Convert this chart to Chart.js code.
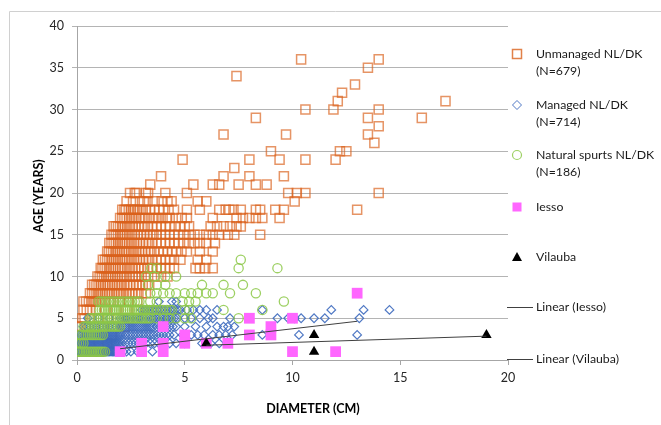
<!DOCTYPE html>
<html>
<head>
<meta charset="utf-8">
<script src="https://cdn.jsdelivr.net/npm/chart.js@4.4.0/dist/chart.umd.min.js"></script>
<style>
  html, body { margin: 0; padding: 0; background: #fff; }
  #wrap { width: 661px; height: 425px; }
</style>
</head>
<body>
<div id="wrap"><canvas id="chart" width="661" height="425"></canvas></div>
<script>
// ages are whole years, so each row is [age, [diameters in cm]]
const unmanagedRows = [
  [1, [0, 0.1, 0.2, 0.4, 0.7, 1.0]],
  [2, [0, 0.15, 0.3, 0.6, 1.0, 1.4]],
  [3, [0.05, 0.2, 0.45, 0.8, 1.2, 1.6]],
  [4, [0.05, 0.15, 0.4, 0.8, 1.2, 1.7, 2.2]],
  [5, [0.25, 0.35, 0.6, 1.0, 1.4, 1.9, 2.4]],
  [6, [0.3, 0.45, 0.6, 0.9, 1.3, 1.8, 2.3, 2.8]],
  [7, [0.3, 0.42, 0.55, 0.66, 0.78, 0.9, 1.02, 1.15, 1.3, 1.5, 1.7, 2.0, 2.4, 2.8]],
  [8, [0.6, 0.7, 0.8, 0.9, 0.98, 1.08, 1.18, 1.3, 1.4, 1.5, 1.62, 1.72, 1.85, 1.95, 2.05, 2.18, 2.3, 2.42, 2.55, 2.7, 2.85, 3.0, 3.2]],
  [9, [0.7, 0.8, 0.9, 1.0, 1.1, 1.2, 1.3, 1.42, 1.52, 1.64, 1.75, 1.86, 1.97, 2.08, 2.2, 2.32, 2.45, 2.6, 2.75, 2.9, 3.05, 3.2, 3.35]],
  [10, [0.95, 1.05, 1.15, 1.25, 1.35, 1.45, 1.55, 1.66, 1.77, 1.88, 2.0, 2.1, 2.2, 2.32, 2.45, 2.58, 2.7, 2.85, 3.0, 3.15, 3.3, 3.6, 3.9, 4.2]],
  [11, [1.1, 1.18, 1.28, 1.38, 1.48, 1.58, 1.68, 1.78, 1.9, 2.0, 2.1, 2.22, 2.34, 2.46, 2.58, 2.7, 2.84, 2.98, 3.12, 3.3, 3.5, 3.7, 3.9, 4.1, 4.3, 4.5, 5.5, 5.7, 5.95, 6.3]],
  [12, [1.2, 1.3, 1.4, 1.5, 1.6, 1.7, 1.8, 1.9, 2.0, 2.1, 2.2, 2.3, 2.42, 2.54, 2.66, 2.78, 2.9, 3.05, 3.2, 3.35, 3.5, 3.7, 3.9, 4.1, 4.3, 4.5, 4.8, 5.6, 6.0]],
  [13, [1.4, 1.48, 1.58, 1.68, 1.78, 1.88, 1.98, 2.08, 2.18, 2.28, 2.4, 2.52, 2.64, 2.76, 2.88, 3.0, 3.15, 3.3, 3.45, 3.6, 3.8, 4.0, 4.2, 4.4, 4.6, 4.85, 5.1, 5.7, 6.3]],
  [14, [1.5, 1.6, 1.7, 1.8, 1.9, 2.0, 2.1, 2.2, 2.3, 2.42, 2.54, 2.66, 2.78, 2.9, 3.05, 3.2, 3.35, 3.5, 3.7, 3.9, 4.1, 4.3, 4.5, 4.7, 4.95, 5.2, 5.45, 5.7, 6.0, 6.4]],
  [15, [1.6, 1.7, 1.8, 1.9, 2.0, 2.1, 2.2, 2.32, 2.44, 2.56, 2.68, 2.8, 2.95, 3.1, 3.25, 3.4, 3.55, 3.7, 3.9, 4.1, 4.3, 4.5, 4.7, 4.95, 5.2, 5.45, 5.7, 6.0, 6.3, 6.6, 7.0, 7.3, 8.5]],
  [16, [1.7, 1.8, 1.9, 2.0, 2.1, 2.22, 2.34, 2.46, 2.58, 2.7, 2.85, 3.0, 3.15, 3.3, 3.5, 3.7, 3.9, 4.1, 4.3, 4.55, 4.8, 5.0, 5.2, 6.2, 6.5, 6.8, 7.1, 7.4, 7.6]],
  [17, [2.0, 2.1, 2.2, 2.3, 2.42, 2.54, 2.66, 2.76, 2.88, 3.0, 3.15, 3.33, 3.5, 3.65, 3.8, 3.97, 4.15, 4.3, 4.6, 4.86, 5.1, 6.3, 7.4, 7.7, 8.0, 8.3, 8.6, 9.4]],
  [18, [2.1, 2.2, 2.27, 2.4, 2.5, 2.6, 2.7, 2.8, 2.9, 3.05, 3.2, 3.4, 3.6, 3.8, 4.0, 4.25, 4.5, 5.1, 5.7, 6.6, 6.9, 7.07, 7.26, 7.6, 8.3, 8.5, 9.2, 9.6, 13.0]],
  [19, [2.3, 2.6, 2.92, 3.1, 3.27, 3.6, 3.93, 4.2, 4.39, 5.6, 6.0, 10.1]],
  [20, [2.46, 2.68, 2.76, 3.2, 3.3, 4.1, 5.1, 9.8, 10.2, 10.6, 14.0]],
  [21, [3.4, 5.4, 6.3, 6.6, 7.5, 8.3, 8.8]],
  [22, [3.9, 6.8, 8.0, 9.6]],
  [23, [7.3]],
  [24, [4.9, 8.0, 9.4, 10.6, 12.0]],
  [25, [9.0, 12.2, 12.5]],
  [26, [13.8]],
  [27, [6.8, 9.7, 13.5]],
  [28, [14.0]],
  [29, [8.3, 13.5, 16.0]],
  [30, [10.6, 11.9, 14.0]],
  [31, [12.1, 17.1]],
  [32, [12.3]],
  [33, [12.9]],
  [34, [7.4]],
  [35, [13.5]],
  [36, [10.4, 14.0]]
];

const managedRows = [
  [1, [0.02, 0.08, 0.14, 0.2, 0.26, 0.32, 0.38, 0.44, 0.5, 0.56, 0.62, 0.68, 0.74, 0.8, 0.86, 0.92, 0.98, 1.04, 1.1, 1.16, 1.22, 1.28, 1.34, 1.4, 1.46, 1.52, 1.58, 1.64, 1.7, 1.76, 1.82, 1.9, 2.0, 2.15, 2.3, 2.5, 2.8, 3.5]],
  [2, [0.05, 0.11, 0.17, 0.23, 0.29, 0.35, 0.41, 0.47, 0.53, 0.59, 0.65, 0.71, 0.77, 0.83, 0.89, 0.95, 1.01, 1.07, 1.13, 1.19, 1.25, 1.31, 1.37, 1.43, 1.49, 1.55, 1.61, 1.67, 1.73, 1.79, 1.85, 1.92, 2.0, 2.1, 2.25, 2.4, 2.55, 2.7, 2.85, 3.0, 3.2, 3.4, 3.6, 3.8, 4.0, 4.3, 4.6, 5.0, 5.8, 6.2, 6.6]],
  [3, [0.1, 0.18, 0.26, 0.34, 0.42, 0.5, 0.58, 0.66, 0.74, 0.82, 0.9, 0.98, 1.06, 1.14, 1.22, 1.3, 1.38, 1.46, 1.54, 1.62, 1.7, 1.78, 1.86, 1.94, 2.02, 2.12, 2.24, 2.36, 2.48, 2.6, 2.72, 2.84, 2.96, 3.08, 3.2, 3.32, 3.44, 3.56, 3.7, 3.85, 4.0, 4.15, 4.3, 4.5, 4.9, 5.3, 5.6, 5.9, 6.3, 6.6, 6.9, 7.2, 8.6, 9.0, 10.3, 13.0]],
  [4, [0.3, 0.45, 0.6, 0.75, 0.9, 1.05, 1.2, 1.35, 1.5, 1.65, 1.8, 1.95, 2.05, 2.15, 2.25, 2.35, 2.45, 2.55, 2.65, 2.75, 2.85, 2.95, 3.05, 3.15, 3.25, 3.35, 3.45, 3.55, 3.7, 3.85, 4.0, 4.15, 4.3, 4.45, 4.6, 5.0, 5.5, 6.0, 6.5, 6.8, 7.0, 7.3]],
  [5, [0.5, 1.0, 1.5, 2.0, 2.12, 2.24, 2.36, 2.48, 2.6, 2.72, 2.84, 2.96, 3.08, 3.2, 3.32, 3.44, 3.56, 3.68, 3.8, 3.92, 4.04, 4.16, 4.28, 4.4, 4.52, 4.64, 5.0, 5.3, 5.7, 6.1, 6.3, 7.1, 9.3, 9.8, 10.1, 10.4, 11.0, 11.5, 13.1]],
  [6, [3.0, 3.12, 3.24, 3.36, 3.48, 3.6, 3.72, 3.84, 3.96, 4.08, 4.2, 4.32, 4.44, 4.56, 4.7, 4.8, 5.1, 5.4, 5.7, 6.0, 6.5, 8.6, 11.8, 13.3, 14.5]],
  [7, [3.8, 4.4, 4.6]]
];

const spurtRows = [
  [1, [0, 0.08, 0.16, 0.24, 0.32, 0.4, 0.48, 0.56, 0.64, 0.72, 0.8, 0.88, 0.96, 1.04, 1.12, 1.2, 1.3]],
  [2, [0, 0.1, 0.2, 0.3]],
  [3, [0.1, 0.2, 0.3, 0.4, 0.5, 0.6, 0.7, 0.8, 0.9, 1.0, 1.1, 1.2]],
  [4, [0.3, 0.4, 0.5, 0.6, 0.7, 0.8, 0.9, 1.0, 1.1, 1.2, 1.3, 1.4, 1.5, 1.6, 1.7, 1.8, 1.9, 2.0]],
  [5, [0.6, 0.7, 0.8, 0.9, 1.0, 1.1, 1.2, 1.3, 1.4, 1.5, 1.6, 1.7, 1.8, 1.9, 2.0, 2.1, 2.2, 2.3, 2.4, 2.5, 2.6, 2.7, 2.8, 2.9, 3.0, 3.1, 3.2, 3.3, 3.4, 3.7, 4.0, 4.3, 4.6, 5.0, 5.3, 7.5]],
  [6, [1.05, 1.15, 1.25, 1.35, 1.45, 1.55, 1.65, 1.75, 1.85, 1.95, 2.05, 2.15, 2.25, 2.35, 2.45, 2.55, 2.65, 2.75, 2.85, 2.95, 3.05, 3.15, 3.25, 3.35, 3.45, 3.55, 3.7, 3.85, 4.0, 4.15, 4.3, 4.4, 5.0, 5.2, 6.8, 8.6]],
  [7, [1.0, 1.12, 1.24, 1.36, 1.48, 1.6, 1.72, 1.84, 1.96, 2.08, 2.2, 2.32, 2.44, 2.56, 2.68, 2.8, 2.9, 3.4, 3.7, 4.9, 5.2, 5.5, 9.6]],
  [8, [3.4, 3.7, 4.0, 4.3, 4.6, 5.0, 5.3, 5.6, 6.0, 6.3, 7.1, 8.3]],
  [9, [3.3, 3.7, 4.1, 5.8, 6.8, 7.7]],
  [10, [3.2, 3.6, 4.1, 4.6]],
  [11, [3.45, 3.7, 7.5, 9.3]],
  [12, [7.6]]
];

// [diameter, age]
const iesso = [[2,1],[3,2],[3,1],[4,4],[4,2],[4,1],[5,3],[5,2],[6,2],[7,2],[8,5],[8,3],[9,4],[9,3],[10,5],[10,1],[12,1],[13,8]];
const vilauba = [[6,2],[11,3],[11,1],[19,3]];

const seriesNames = ['Unmanaged NL/DK', 'Managed NL/DK', 'Natural spurts NL/DK', 'Iesso', 'Vilauba', 'Linear (Iesso)', 'Linear (Vilauba)'];
const seriesCounts = ['(N=679)', '(N=714)', '(N=186)'];

function rowsToPoints(rows) {
  return rows.flatMap(([age, ds]) => ds.map(d => ({ x: d, y: age })));
}
function pairsToPoints(list) { return list.map(([d, a]) => ({ x: d, y: a })); }
// least squares line over the x range of the data, like Excel's linear trendline
function trend(list) {
  const n = list.length;
  const mx = list.reduce((s, p) => s + p[0], 0) / n;
  const my = list.reduce((s, p) => s + p[1], 0) / n;
  let sxy = 0, sxx = 0;
  list.forEach(([x, y]) => { sxy += (x - mx) * (y - my); sxx += (x - mx) * (x - mx); });
  const b = sxy / sxx, a = my - b * mx;
  const xs = list.map(p => p[0]);
  const lo = Math.min(...xs), hi = Math.max(...xs);
  return [{ x: lo, y: a + b * lo }, { x: hi, y: a + b * hi }];
}

const FONT = 'Lato, "Open Sans", sans-serif';
const C_ORANGE = 'rgba(218,98,28,0.68)';
const C_BLUE = 'rgba(60,105,190,0.9)';
const C_GREEN = 'rgba(140,200,72,0.85)';
const C_PINK = '#FF66FF';

const legendPlugin = {
  id: 'sideLegend',
  beforeDraw(chart) {
    const ctx = chart.ctx;
    ctx.save();
    ctx.strokeStyle = '#D0D0D0';
    ctx.lineWidth = 1;
    ctx.beginPath();
    ctx.moveTo(9.5, 425); ctx.lineTo(9.5, 11.5); ctx.lineTo(661, 11.5);
    ctx.stroke();
    ctx.restore();
  },
  afterDraw(chart) {
    const ctx = chart.ctx;
    ctx.save();
    // axis titles
    ctx.fillStyle = '#000';
    ctx.font = 'bold 12.5px ' + FONT;
    ctx.textAlign = 'center';
    ctx.textBaseline = 'middle';
    ctx.fillText('DIAMETER (CM)', 313, 409);
    ctx.save();
    ctx.translate(39, 196);
    ctx.rotate(-Math.PI / 2);
    ctx.fillText('AGE (YEARS)', 0, 0);
    ctx.restore();

    // legend
    const mx = 517, tx = 536;
    ctx.font = '12.3px ' + FONT;
    ctx.textAlign = 'left';
    ctx.fillStyle = '#1a1a1a';
    // unmanaged
    ctx.strokeStyle = 'rgba(218,98,28,0.8)'; ctx.lineWidth = 1.5;
    ctx.strokeRect(mx - 4.5, 54 - 4.5, 9, 9);
    ctx.fillText(seriesNames[0], tx, 54); ctx.fillText(seriesCounts[0], tx, 71);
    // managed
    ctx.strokeStyle = C_BLUE; ctx.lineWidth = 1;
    ctx.beginPath();
    ctx.moveTo(mx - 4.5, 105); ctx.lineTo(mx, 100.5); ctx.lineTo(mx + 4.5, 105); ctx.lineTo(mx, 109.5); ctx.closePath();
    ctx.stroke();
    ctx.fillText(seriesNames[1], tx, 105); ctx.fillText(seriesCounts[1], tx, 122);
    // spurts
    ctx.strokeStyle = C_GREEN; ctx.lineWidth = 1.2;
    ctx.beginPath(); ctx.arc(mx, 155, 4.5, 0, Math.PI * 2); ctx.stroke();
    ctx.fillText(seriesNames[2], tx, 155); ctx.fillText(seriesCounts[2], tx, 172);
    // iesso
    ctx.fillStyle = C_PINK;
    ctx.fillRect(mx - 4.5, 207 - 4.5, 9, 9);
    ctx.fillStyle = '#1a1a1a';
    ctx.fillText(seriesNames[3], tx, 207);
    // vilauba
    ctx.fillStyle = '#000';
    ctx.beginPath();
    ctx.moveTo(mx, 252); ctx.lineTo(mx + 5, 261); ctx.lineTo(mx - 5, 261); ctx.closePath();
    ctx.fill();
    ctx.fillStyle = '#1a1a1a';
    ctx.fillText(seriesNames[4], tx, 257);
    // trend lines
    ctx.strokeStyle = '#404040'; ctx.lineWidth = 1;
    ctx.beginPath(); ctx.moveTo(507, 307.5); ctx.lineTo(533, 307.5); ctx.stroke();
    ctx.fillText(seriesNames[5], tx, 307);
    ctx.beginPath(); ctx.moveTo(507, 359.5); ctx.lineTo(533, 359.5); ctx.stroke();
    ctx.fillText(seriesNames[6], tx, 359);
    ctx.restore();
  }
};

const pointDefaults = { showLine: false, pointHoverRadius: 0 };

new Chart(document.getElementById('chart'), {
  type: 'scatter',
  data: {
    datasets: [
      { ...pointDefaults, label: seriesNames[0], data: rowsToPoints(unmanagedRows), order: 6,
        pointStyle: 'rect', pointRadius: 6.4, pointBorderWidth: 1.5,
        pointBorderColor: C_ORANGE, pointBackgroundColor: 'rgba(0,0,0,0)' },
      { ...pointDefaults, label: seriesNames[1], data: rowsToPoints(managedRows), order: 5,
        pointStyle: 'rectRot', pointRadius: 4.3, pointBorderWidth: 1.2,
        pointBorderColor: C_BLUE, pointBackgroundColor: 'rgba(0,0,0,0)' },
      { ...pointDefaults, label: seriesNames[2], data: rowsToPoints(spurtRows), order: 4,
        pointStyle: 'circle', pointRadius: 4.6, pointBorderWidth: 1.3,
        pointBorderColor: C_GREEN, pointBackgroundColor: 'rgba(0,0,0,0)' },
      { ...pointDefaults, label: seriesNames[3], data: pairsToPoints(iesso), order: 3,
        pointStyle: 'rect', pointRadius: 7.6, pointBorderWidth: 0,
        pointBorderColor: C_PINK, pointBackgroundColor: C_PINK },
      { ...pointDefaults, label: seriesNames[4], data: pairsToPoints(vilauba), order: 2,
        pointStyle: 'triangle', pointRadius: 6, pointBorderWidth: 0,
        pointBorderColor: '#000', pointBackgroundColor: '#000' },
      { label: seriesNames[5], data: trend(iesso), order: 1, showLine: true,
        pointRadius: 0, borderColor: '#404040', borderWidth: 1 },
      { label: seriesNames[6], data: trend(vilauba), order: 0, showLine: true,
        pointRadius: 0, borderColor: '#404040', borderWidth: 1 }
    ]
  },
  options: {
    responsive: false,
    animation: false,
    devicePixelRatio: 1,
    layout: { padding: { left: 0, top: 26, right: 153, bottom: 0 } },
    plugins: { legend: { display: false }, tooltip: { enabled: false } },
    events: [],
    scales: {
      x: {
        type: 'linear', min: 0, max: 20,
        afterFit(s) { s.height = 65; },
        ticks: { stepSize: 5, color: '#262626', font: { family: FONT, size: 12.5 }, padding: 5, maxRotation: 0 },
        grid: { drawOnChartArea: false, drawTicks: true, tickLength: 5, color: '#A6A6A6' },
        border: { color: '#A6A6A6' }
      },
      y: {
        min: 0, max: 40,
        afterFit(s) { s.width = 77; },
        ticks: { stepSize: 5, color: '#262626', font: { family: FONT, size: 12.5 }, padding: 8 },
        grid: { color: '#B4B4B4', tickLength: 5, lineWidth: 1 },
        border: { color: '#A6A6A6' }
      }
    }
  },
  plugins: [legendPlugin]
});
</script>
</body>
</html>
